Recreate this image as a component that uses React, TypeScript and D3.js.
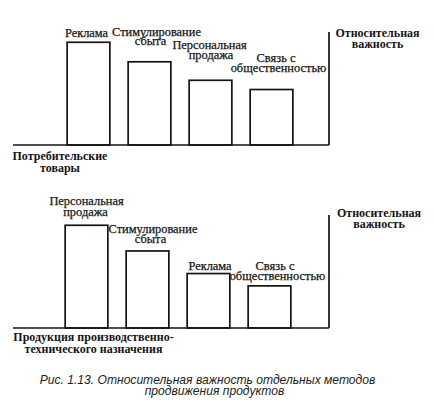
import React from "react";
import * as d3 from "d3";

// ---- Data ----
const consumerCategories = ["Реклама", "Стимулирование сбыта", "Персональная продажа", "Связь с общественностью"];
const consumerValues = [100, 81, 63, 54];
const industrialCategories = ["Персональная продажа", "Стимулирование сбыта", "Реклама", "Связь с общественностью"];
const industrialValues = [100, 75, 53, 41];
const labelLines: Record<string, string[]> = {
  "Реклама": ["Реклама"],
  "Стимулирование сбыта": ["Стимулирование", "сбыта"],
  "Персональная продажа": ["Персональная", "продажа"],
  "Связь с общественностью": ["Связь с", "общественностью"],
};
const yAxisTitle = ["Относительная", "важность"];
const consumerTitle = ["Потребительские", "товары"];
const industrialTitle = ["Продукция производственно-", "технического назначения"];
const caption = ["Рис. 1.13. Относительная важность отдельных методов", "продвижения продуктов"];
const valueMax = 110;

// ---- Layout (positions/styles) ----
type LabelLayout = { dx: number[]; gap: number; lh: number };
const panels = [
  {
    categories: consumerCategories,
    values: consumerValues,
    title: consumerTitle,
    baseline: 145,
    axisTop: 32,
    xRange: [58, 302] as [number, number],
    titleX: 60,
    titleY: [160, 172],
    yTitleX: 377.5,
    yTitleY: [37, 48],
    labels: [
      { dx: [-2], gap: 5, lh: 10 },
      { dx: [7, 1], gap: 17, lh: 9 },
      { dx: [-1, 0.5], gap: 21, lh: 10 },
      { dx: [4.5, 7], gap: 18, lh: 9.5 },
    ] as LabelLayout[],
  },
  {
    categories: industrialCategories,
    values: industrialValues,
    title: industrialTitle,
    baseline: 328,
    axisTop: 215,
    xRange: [56, 300] as [number, number],
    titleX: 93.5,
    titleY: [341, 353],
    yTitleX: 379,
    yTitleY: [217, 228],
    labels: [
      { dx: [0, -1], gap: 9, lh: 11 },
      { dx: [5.5, 3], gap: 8, lh: 10 },
      { dx: [1.5], gap: 4, lh: 10 },
      { dx: [5.5, 8], gap: 6, lh: 10 },
    ] as LabelLayout[],
  },
];
const axisLeft = 13;
const axisRight = 329;
const ink = "#151515";
const serif = "Liberation Serif";
const sans = "Liberation Sans";

const labelStyle = { fontFamily: serif, fontSize: 12.4, stroke: ink, strokeWidth: 0.25 };
const boldStyle = { fontFamily: serif, fontSize: 12, fontWeight: "bold" as const };

function Panel({ p }: { p: (typeof panels)[number] }) {
  const x = d3.scaleBand<string>().domain(p.categories).range(p.xRange).paddingInner(0.3).paddingOuter(0.15);
  const y = d3.scaleLinear().domain([0, valueMax]).range([p.baseline, p.axisTop]);
  return (
    <g>
      {p.categories.map((c, i) => {
        const x0 = x(c)!;
        const top = y(p.values[i]);
        const lines = labelLines[c];
        const lay = p.labels[i];
        const cx = x0 + x.bandwidth() / 2;
        return (
          <g key={c}>
            <rect x={x0} y={top} width={x.bandwidth()} height={y(0) - top} fill="white" stroke={ink} strokeWidth={1.7} />
            {lines.map((t, j) => (
              <text
                key={j}
                x={cx + (lay.dx[j] ?? 0)}
                y={top - lay.gap - (lines.length - 1 - j) * lay.lh}
                textAnchor="middle"
                style={labelStyle}
                fill={ink}
              >
                {t}
              </text>
            ))}
          </g>
        );
      })}
      <line x1={axisLeft} x2={axisRight} y1={y(0)} y2={y(0)} stroke={ink} strokeWidth={1.7} />
      <line x1={axisRight} x2={axisRight} y1={y(0)} y2={y(valueMax)} stroke={ink} strokeWidth={1.7} />
      {yAxisTitle.map((t, j) => (
        <text key={j} x={p.yTitleX} y={p.yTitleY[j]} textAnchor="middle" style={boldStyle} fill={ink}>
          {t}
        </text>
      ))}
      {p.title.map((t, j) => (
        <text key={j} x={p.titleX} y={p.titleY[j]} textAnchor="middle" style={boldStyle} fill={ink}>
          {t}
        </text>
      ))}
    </g>
  );
}

export default function App() {
  return (
    <svg width={434} height={412} style={{ position: "absolute", left: 0, top: 0, background: "white" }}>
      <rect width={434} height={412} fill="white" />
      {panels.map((p, i) => (
        <Panel key={i} p={p} />
      ))}
      {caption.map((t, j) => (
        <text
          key={j}
          x={j === 0 ? 207.5 : 214.5}
          y={j === 0 ? 384 : 395}
          textAnchor="middle"
          style={{ fontFamily: sans, fontStyle: "italic", fontSize: 12.1 }}
          fill="#222"
        >
          {t}
        </text>
      ))}
    </svg>
  );
}
